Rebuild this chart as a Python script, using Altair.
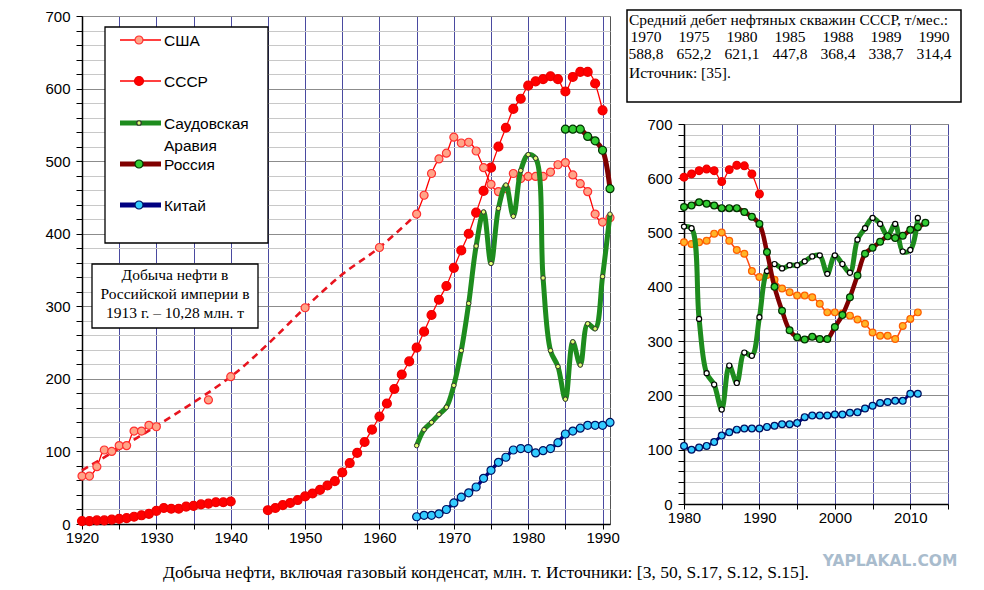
import pandas as pd
import altair as alt

SANS = "Liberation Sans"
SERIF = "Liberation Serif"

# ---------- main panel, 1920-1991, млн. т ----------
usa_early_years = list(range(1920, 1931))
usa_early = [66, 66, 79, 102, 100, 108, 108, 128, 128, 136, 134]
usa_sparse_years = [1937, 1940, 1950, 1960]
usa_sparse = [171, 203, 298, 381]
usa_late_years = list(range(1965, 1992))
usa_late = [427, 453, 483, 503, 511, 533, 525, 526, 514, 491, 468, 458, 462,
            483, 476, 479, 479, 479, 485, 495, 498, 481, 469, 458, 427, 416, 422]
usa_trend_years = [1920, 1930, 1940, 1945, 1950, 1955, 1960, 1965]
usa_trend = [74, 135, 203, 248, 298, 344, 381, 427]

ussr_prewar_years = list(range(1920, 1941))
ussr_prewar = [4, 4, 5, 5, 6, 7, 8, 10, 12, 14, 18, 22, 21, 21, 24, 25, 27, 28, 30, 30, 31]
ussr_postwar_years = list(range(1945, 1991))
ussr_postwar = [19, 22, 26, 29, 33, 38, 42, 47, 53, 59, 71, 84, 98, 113, 130,
                148, 166, 186, 206, 224, 243, 265, 288, 309, 328, 353, 377, 400,
                429, 459, 491, 520, 546, 572, 586, 604, 610, 613, 617, 613, 596,
                616, 623, 623, 607, 570]

saudi_years = list(range(1965, 1992))
saudi = [108, 130, 140, 151, 161, 191, 239, 304, 383, 430, 359, 435, 467, 424,
         487, 509, 504, 339, 239, 217, 172, 251, 219, 276, 269, 341, 427]
russia_years = list(range(1985, 1992))
russia = [544, 544, 544, 534, 528, 515, 462]
china_years = list(range(1965, 1992))
china = [10, 12, 12, 14, 20, 29, 37, 43, 51, 63, 74, 85, 92, 102, 104, 104, 98,
         101, 104, 112, 124, 128, 132, 136, 136, 136, 140]

# ---------- right panel, 1980-2012 ----------
ussr_r_years = list(range(1980, 1991))
ussr_r = [602, 608, 614, 617, 614, 594, 616, 624, 623, 608, 571]
russia_r_years = list(range(1980, 2013))
russia_r = [547, 550, 556, 553, 550, 545, 545, 545, 538, 529,
            516, 464, 400, 356, 320, 307, 303, 308, 304, 304,
            326, 348, 381, 421, 461, 472, 483, 493, 490, 494,
            505, 510, 518]
saudi_r_years = list(range(1980, 2012))
saudi_r = [511, 508, 341, 241, 220, 174, 255, 223, 279, 273,
           344, 429, 442, 434, 440, 440, 447, 456, 458, 424,
           458, 442, 426, 487, 508, 527, 516, 494, 516, 465,
           468, 527]
usa_r_years = list(range(1980, 2012))
usa_r = [482, 479, 482, 485, 498, 500, 485, 468, 461, 429,
         418, 422, 413, 397, 390, 384, 384, 381, 369, 353,
         353, 351, 347, 340, 332, 316, 310, 310, 304, 328,
         341, 353]
china_r_years = list(range(1980, 2012))
china_r = [107, 100, 104, 107, 114, 126, 132, 137, 139, 139,
           139, 142, 144, 147, 147, 149, 160, 163, 163, 163,
           165, 165, 168, 169, 176, 181, 186, 188, 190, 190,
           203, 203]

# ---------- texts ----------
legend_labels = ["США", "СССР", "Саудовская", "Россия", "Китай"]
legend_extra = "Аравия"
empire_note = ["Добыча нефти в", "Российской империи в", "1913 г. – 10,28 млн. т"]
debit_title = "Средний дебет нефтяных скважин СССР,  т/мес.:"
debit_years = ["1970", "1975", "1980", "1985", "1988", "1989", "1990"]
debit_values = ["588,8", "652,2", "621,1", "447,8", "368,4", "338,7", "314,4"]
debit_source = "Источник: [35]."
caption = "Добыча нефти, включая газовый конденсат, млн. т. Источники: [3, 50, S.17, S.12, S.15]."
watermark = "YAPLAKAL.COM"

RED = "#ff0000"
GREEN = "#1e8c1e"
DARKRED = "#800000"
NAVY = "#000080"

MAIN_W, MAIN_H = 528, 508
RIGHT_W, RIGHT_H = 264, 380


def frame(years, values, seg=0):
    return pd.DataFrame({"year": years, "value": values, "seg": seg})


def y_enc():
    axis = alt.Axis(
        values=list(range(0, 701, 20)),
        labelExpr="datum.value % 100 === 0 ? datum.label : ''",
        gridColor={"condition": {"test": "datum.value % 100 === 0", "value": "#8c8c8c"},
                   "value": "#c8c8c8"},
        tickSize=6, labelPadding=6, labelFlush=False,
    )
    return alt.Y("value:Q", scale=alt.Scale(domain=[0, 700], nice=False), axis=axis, title=None)


def x_enc(lo, hi):
    axis = alt.Axis(
        values=list(range(lo, hi + 1, 5)),
        labelExpr="datum.value % 10 === 0 ? datum.label : ''",
        format="d", gridColor="#4a4aa0", tickSize=5, labelPadding=1,
        labelFlush=False,
    )
    return alt.X("year:Q", scale=alt.Scale(domain=[lo, hi], nice=False, zero=False),
                 axis=axis, title=None)


def line(df, x, color, width, interp="monotone", dash=None):
    kw = dict(color=color, strokeWidth=width, interpolate=interp)
    if dash:
        kw["strokeDash"] = dash
    return alt.Chart(df).mark_line(**kw).encode(x=x, y=y_enc(), detail="seg:N")


def dots(df, x, fill, stroke, size, sw=1.2):
    return alt.Chart(df).mark_circle(color=fill, stroke=stroke, strokeWidth=sw,
                                     size=size, opacity=1).encode(x=x, y=y_enc())


dummy = pd.DataFrame({"a": [0]})


def label(text, x, y, font=SANS, size=16, align="left", color="black", bold=False):
    return alt.Chart(dummy).mark_text(
        text=text, font=font, fontSize=size, align=align, baseline="middle",
        color=color, fontWeight="bold" if bold else "normal"
    ).encode(x=alt.value(x), y=alt.value(y))


def box(x1, x2, y1, y2, sw=1.5):
    return alt.Chart(dummy).mark_rect(fill="white", stroke="black", strokeWidth=sw).encode(
        x=alt.value(x1), x2=alt.value(x2), y=alt.value(y1), y2=alt.value(y2))


# ---------- main panel ----------
xm = x_enc(1920, 1991)
usa_solid = pd.concat([frame(usa_early_years, usa_early, 0), frame(usa_late_years, usa_late, 1)])
usa_pts = pd.concat([usa_solid, frame(usa_sparse_years, usa_sparse, 2)])
ussr_df = pd.concat([frame(ussr_prewar_years, ussr_prewar, 0),
                     frame(ussr_postwar_years, ussr_postwar, 1)])

main_layers = [
    line(frame(usa_trend_years, usa_trend), xm, "#e8141e", 2.6, "catmull-rom", dash=[7, 5]),
    line(ussr_df, xm, RED, 1.3),
    dots(ussr_df, xm, RED, "#ee0000", 80),
    line(usa_solid, xm, RED, 1.3),
    dots(usa_pts, xm, "#ffa488", "#ff3030", 64),
    line(frame(saudi_years, saudi), xm, GREEN, 5, "catmull-rom"),
    dots(frame(saudi_years, saudi), xm, "#ddff70", "#333333", 20, 1),
    line(frame(russia_years, russia), xm, DARKRED, 5, "catmull-rom"),
    dots(frame(russia_years, russia), xm, "#33cc33", "#003300", 64),
    line(frame(china_years, china), xm, NAVY, 3.5, "catmull-rom"),
    dots(frame(china_years, china), xm, "#33ccff", "#001060", 64),
]

# legend box (drawn by hand: line + marker symbols)
legend_style = [
    (RED, 1.3, "#ffa488", "#ff3030", 64),
    (RED, 1.3, RED, "#ee0000", 80),
    (GREEN, 5, "#ddff70", "#333333", 20),
    (DARKRED, 5, "#33cc33", "#003300", 64),
    (NAVY, 5, "#33ccff", "#001060", 64),
]
legend_y = [24, 65, 107, 148, 189]
main_layers.append(box(23, 186, 11, 227, 1.3))
for name, (lc, lw, fc, sc, sz), ly in zip(legend_labels, legend_style, legend_y):
    main_layers.append(alt.Chart(dummy).mark_rule(color=lc, strokeWidth=lw).encode(
        x=alt.value(38), x2=alt.value(79), y=alt.value(ly)))
    main_layers.append(alt.Chart(dummy).mark_circle(color=fc, stroke=sc, strokeWidth=1.2,
                                                    size=sz, opacity=1).encode(
        x=alt.value(57), y=alt.value(ly)))
    main_layers.append(label(name, 82, ly + 1, size=15.5))
main_layers.append(label(legend_extra, 82, 130, size=15.5))

# note about 1913
main_layers.append(box(10, 176, 248, 312, 1.3))
for i, t in enumerate(empire_note):
    main_layers.append(label(t, 93, 259 + 19 * i, font=SERIF, size=15.5, align="center"))

# caption under the whole figure
main_layers.append(label(caption, 404, 557, font=SERIF, size=17.5, align="center"))

main = alt.layer(*main_layers).properties(
    width=MAIN_W, height=MAIN_H, view=alt.ViewBackground(stroke="#555555"))

# ---------- right panel ----------
xr = x_enc(1980, 2015)
right_layers = [
    line(frame(usa_r_years, usa_r), xr, "#ff4a10", 1.5),
    dots(frame(usa_r_years, usa_r), xr, "#ffb428", "#ff6000", 46),
    line(frame(saudi_r_years, saudi_r), xr, GREEN, 5, "catmull-rom"),
    dots(frame(saudi_r_years, saudi_r), xr, "white", "black", 26, 1.2),
    line(frame(russia_r_years, russia_r), xr, DARKRED, 4.5, "catmull-rom"),
    dots(frame(russia_r_years, russia_r), xr, "#33cc33", "#003300", 46),
    line(frame(ussr_r_years, ussr_r), xr, RED, 1.3),
    dots(frame(ussr_r_years, ussr_r), xr, RED, "#ee0000", 60),
    line(frame(china_r_years, china_r), xr, NAVY, 3, "catmull-rom"),
    dots(frame(china_r_years, china_r), xr, "#33ccff", "#001060", 46),
    label(watermark, 206, 437, font="DejaVu Sans", size=15.5, align="center",
          color="#a9bccd", bold=True),
]
right = alt.layer(*right_layers).properties(
    width=RIGHT_W, height=RIGHT_H, view=alt.ViewBackground(stroke="#777777"))

# debit table box above the right panel
debit_df = pd.DataFrame({
    "year": debit_years, "val": debit_values,
    "px": [-38 + 48 * i for i in range(len(debit_years))],
})
table_layers = [box(-57, 277, -6, 86, 1.5),
                label(debit_title, -55, 4, font=SERIF, size=15.5),
                label(debit_source, -55, 57, font=SERIF, size=15.5)]
for field, yy in (("year", 21), ("val", 38)):
    table_layers.append(alt.Chart(debit_df).mark_text(
        font=SERIF, fontSize=15.5, align="center", baseline="middle", color="black"
    ).encode(x=alt.X("px:Q", scale=None), y=alt.value(yy), text=f"{field}:N"))
table = alt.layer(*table_layers).properties(
    width=RIGHT_W, height=90, view=alt.ViewBackground(strokeWidth=0))

right_col = alt.vconcat(table, right, spacing=18, bounds="flush")

chart = alt.hconcat(main, right_col, spacing=74, bounds="flush").properties(
    padding={"left": 36, "top": 0, "right": 0, "bottom": 0},
    background="white",
).configure_axis(
    labelFont=SANS, labelFontSize=15, labelColor="black",
    domainColor="black", domainWidth=1.5, tickColor="black", gridWidth=1,
).configure_view(strokeWidth=1)

chart.save("out.html", embed_options={"renderer": "svg", "actions": False})
